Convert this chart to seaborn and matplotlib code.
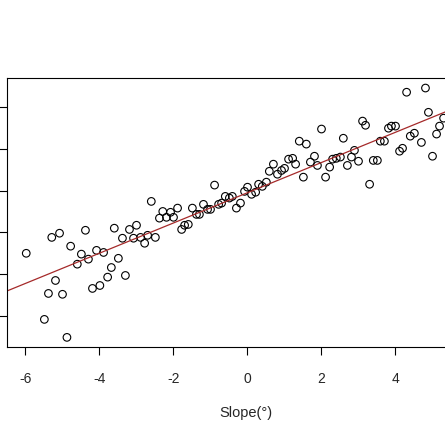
import numpy as np
import matplotlib
matplotlib.use("Agg")
import matplotlib.pyplot as plt
import seaborn as sns

slope = [-5.97,-5.48,-5.37,-5.28,-5.18,-5.07,-4.99,-4.87,-4.77,-4.59,-4.48,-4.37,-4.29,-4.18,-4.07,-3.98,-3.88,-3.77,-3.67,-3.59,
 -3.48,-3.37,-3.29,-3.18,-3.07,-2.99,-2.88,-2.77,-2.69,-2.59,-2.48,-2.37,-2.28,-2.18,-2.07,-1.99,-1.88,-1.77,-1.69,-1.59,
 -1.48,-1.37,-1.29,-1.18,-1.07,-0.99,-0.88,-0.77,-0.69,-0.59,-0.48,-0.40,-0.29,-0.18,-0.07,0.01,0.12,0.23,0.31,0.41,
 0.52,0.60,0.71,0.82,0.93,1.01,1.12,1.23,1.31,1.41,1.52,1.60,1.71,1.82,1.90,2.01,2.12,2.23,2.31,2.41,
 2.52,2.60,2.71,2.82,2.90,3.01,3.12,3.20,3.31,3.41,3.52,3.60,3.71,3.82,3.90,4.01,4.12,4.20,4.31,4.41,
 4.52,4.71,4.82,4.90,5.01,5.12,5.20,5.31]
value = [2.50,0.92,1.54,2.88,1.85,2.98,1.52,0.49,2.67,2.24,2.48,3.05,2.36,1.66,2.57,1.73,2.52,1.93,2.16,3.10,
 2.38,2.86,1.97,3.07,2.86,3.17,2.88,2.74,2.93,3.74,2.88,3.34,3.50,3.36,3.48,3.36,3.58,3.07,3.17,3.19,
 3.58,3.43,3.43,3.67,3.55,3.55,4.13,3.67,3.70,3.86,3.82,3.86,3.58,3.70,3.98,4.08,3.91,3.96,4.15,4.10,
 4.20,4.46,4.63,4.39,4.48,4.53,4.75,4.77,4.63,5.18,4.32,5.11,4.68,4.82,4.60,5.47,4.32,4.56,4.75,4.77,
 4.80,5.25,4.60,4.80,4.96,4.70,5.66,5.56,4.15,4.72,4.72,5.18,5.18,5.49,5.54,5.54,4.94,5.01,6.35,5.30,
 5.37,5.15,6.45,5.87,4.82,5.35,5.54,5.73]
xticks = [-6, -4, -2, 0, 2, 4]
yticks = [1, 2, 3, 4, 5, 6]

sns.set_style("white")
plt.rcParams['font.family'] = ['Liberation Sans', 'DejaVu Sans']

fig = plt.figure(figsize=(4.45, 4.45), dpi=100)
ax = fig.add_axes([7/445, 98/445, 1.2, 269/445])
sns.scatterplot(x=slope, y=value, ax=ax, marker='o', s=30, facecolor='none',
                edgecolor='black', linewidth=0.8)
a, b = np.polyfit(slope, value, 1)
xmax = -6.49 + 1.2 * 445 / 37
xl = np.array([-6.49, xmax])
ax.plot(xl, a*xl + b, color='#a52a2a', lw=0.9)
ax.set_xlim(-6.49, xmax)
ax.set_ylim(0.26, 6.69)
ax.set_xticks(xticks)
ax.set_xticklabels([str(t) for t in xticks], fontsize=10)
ax.set_yticks(yticks)
ax.set_yticklabels([])
ax.tick_params(direction='out', length=6, width=0.8, color='black', bottom=True, left=True, pad=12)
for s in ax.spines.values():
    s.set_color('black'); s.set_linewidth(0.8)
ax.set_xlabel("")
fig.text(246/445, 1 - 413/445, "Slope(°)", fontsize=10.5, ha='center', va='center')
fig.savefig("out.png", dpi=100)
